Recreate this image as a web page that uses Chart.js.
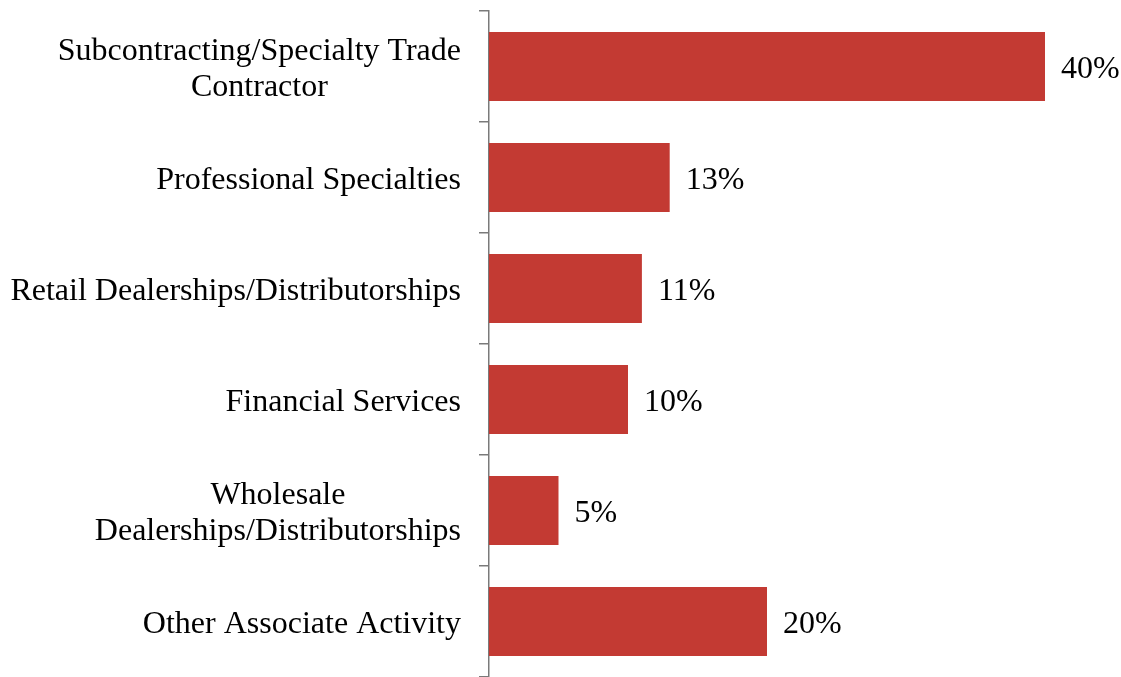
<!DOCTYPE html>
<html>
<head>
<meta charset="utf-8">
<script src="https://cdn.jsdelivr.net/npm/chart.js@4/dist/chart.umd.min.js"></script>
<style>
  html, body { margin: 0; padding: 0; background: #fff; }
  #wrap { width: 1121px; height: 677px; }
</style>
</head>
<body>
<div id="wrap"><canvas id="chartBar"></canvas></div>
<script>
  'use strict';

  var categories = [
    ["Subcontracting/Specialty Trade", "Contractor"],
    ["Professional Specialties"],
    ["Retail Dealerships/Distributorships"],
    ["Financial Services"],
    ["Wholesale", "Dealerships/Distributorships"],
    ["Other Associate Activity"]
  ];
  var shares = [40, 13, 11, 10, 5, 20];

  var colors = {
    bar  : "#c33a33",
    axis : "#7a7a7a",
    text : "#000"
  };

  var fontFamily = "'Liberation Serif', 'Times New Roman', serif";
  var fontSize = 32;
  var lineH = 36;

  // category labels, centred line by line, right edge near the tick marks
  var catLabels = {
    id: 'catLabels',
    afterDraw: function(chart) {
      var ctx = chart.ctx;
      var y = chart.scales.y;
      var right = y.right - 28;
      ctx.save();
      ctx.font = fontSize + "px " + fontFamily;
      ctx.fillStyle = colors.text;
      ctx.textAlign = 'center';
      ctx.textBaseline = 'middle';
      categories.forEach(function(lines, i) {
        var w = 0;
        lines.forEach(function(l) { w = Math.max(w, ctx.measureText(l).width); });
        var cx = right - w / 2;
        var cy = y.getPixelForTick(i) + 3;
        lines.forEach(function(l, j) {
          ctx.fillText(l, cx, cy + (j - (lines.length - 1) / 2) * lineH);
        });
      });
      ctx.restore();
    }
  };

  // value labels at the end of each bar
  var valueLabels = {
    id: 'valueLabels',
    afterDatasetsDraw: function(chart) {
      var ctx = chart.ctx;
      var meta = chart.getDatasetMeta(0);
      ctx.save();
      ctx.font = fontSize + "px " + fontFamily;
      ctx.fillStyle = colors.text;
      ctx.textAlign = 'left';
      ctx.textBaseline = 'middle';
      meta.data.forEach(function(bar, i) {
        ctx.fillText(shares[i] + "%", bar.x + 16, bar.y + 3);
      });
      ctx.restore();
    }
  };

  new Chart(document.getElementById('chartBar'), {
    type: 'bar',
    data: {
      labels: categories,
      datasets: [
        {
          label: "Share",
          backgroundColor: colors.bar,
          borderWidth: 0,
          data: shares,
          barPercentage: 0.62,
          categoryPercentage: 1
        }
      ]
    },
    options: {
      indexAxis: 'y',
      responsive: true,
      maintainAspectRatio: false,
      animation: false,
      layout: {
        padding: { top: 11, right: 76, bottom: 0, left: 0 }
      },
      plugins: {
        legend: { display: false },
        tooltip: { enabled: false }
      },
      scales: {
        x: {
          display: false,
          min: 0,
          max: 40
        },
        y: {
          offset: true,
          afterFit: function(scale) { scale.width = 489; },
          border: { display: true, color: colors.axis, width: 1.5 },
          grid: {
            offset: true,
            drawOnChartArea: false,
            drawTicks: true,
            tickLength: 10,
            lineWidth: 1.5,
            color: colors.axis
          },
          ticks: { display: false }
        }
      }
    },
    plugins: [catLabels, valueLabels]
  });
</script>
</body>
</html>
